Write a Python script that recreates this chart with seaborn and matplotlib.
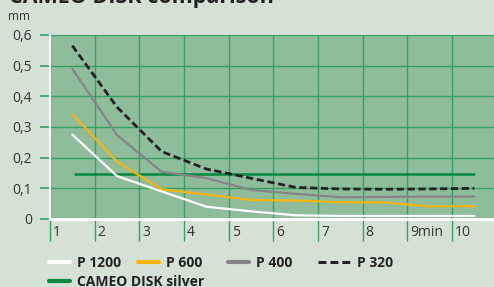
import matplotlib
matplotlib.use("Agg")
import matplotlib.pyplot as plt
import matplotlib.transforms as mtrans
from matplotlib.lines import Line2D
import seaborn as sns
import pandas as pd

# data
minutes = [1.5, 2.5, 3.5, 4.5, 5.5, 6.5, 7.5, 8.5, 9.5, 10.5]
p1200 = [0.275, 0.14, 0.09, 0.04, 0.025, 0.012, 0.01, 0.01, 0.01, 0.01]
p600 = [0.342, 0.187, 0.097, 0.08, 0.062, 0.06, 0.055, 0.054, 0.041, 0.042]
p400 = [0.49, 0.274, 0.154, 0.133, 0.095, 0.082, 0.071, 0.072, 0.073, 0.073]
p320 = [0.565, 0.365, 0.22, 0.163, 0.133, 0.103, 0.098, 0.097, 0.098, 0.1]
cameo_min = [1.55, 10.5]
cameo = [0.147, 0.147]

x_ticks = [1, 2, 3, 4, 5, 6, 7, 8, 9, 10]
x_labels = ["1", "2", "3", "4", "5", "6", "7", "8", "9min", "10"]
y_ticks = [0, 0.1, 0.2, 0.3, 0.4, 0.5, 0.6]
y_labels = ["0", "0,1", "0,2", "0,3", "0,4", "0,5", "0,6"]

series = ["P 1200", "P 600", "P 400", "P 320"]
values = [p1200, p600, p400, p320]

df = pd.DataFrame([
    {"Sorte": s, "min": m, "mm": v}
    for s, vals in zip(series, values)
    for m, v in zip(minutes, vals)
])
df_cameo = pd.DataFrame({"min": cameo_min, "mm": cameo})

sns.set_theme(style="white")
plt.rcParams["font.family"] = ["Open Sans", "DejaVu Sans"]

FIG_BG = "#d6e1d6"
AX_BG = "#8fbd9c"
GRID = "#35a062"
TXT = "#333333"

colors = {"P 1200": "white", "P 600": "#f6b50e", "P 400": "#858585", "P 320": "#222222"}
styles = {"P 1200": "-", "P 600": "-", "P 400": "-", "P 320": (0, (2.6, 1.3))}
widths = {"P 1200": 1.6, "P 600": 1.6, "P 400": 1.6, "P 320": 2.0}
CAMEO_C = "#0a8a45"

fig = plt.figure(figsize=(4.94, 2.87), dpi=100, facecolor=FIG_BG)
ax = fig.add_axes([50 / 494, 1 - 219 / 287, 444 / 494, 184 / 287])
ax.set_facecolor(AX_BG)

sns.lineplot(data=df_cameo, x="min", y="mm", color=CAMEO_C, lw=1.9, ax=ax)
for s in series:
    sns.lineplot(data=df[df["Sorte"] == s], x="min", y="mm", color=colors[s],
                 linestyle=styles[s], lw=widths[s], ax=ax)

ax.set_xlim(1, 10.94)
ax.set_ylim(0, 0.6)
ax.set_xlabel("")
ax.set_ylabel("")

ax.set_xticks(x_ticks)
ax.set_xticklabels(x_labels, ha="left", fontsize=10, color=TXT)
ax.set_yticks(y_ticks)
ax.set_yticklabels(y_labels, fontsize=10, color=TXT)
ax.tick_params(axis="x", bottom=True, length=16, width=1, color=GRID, pad=-12, direction="out")
ax.tick_params(axis="y", left=True, length=7, width=1.2, color=GRID, pad=6, direction="out")
shift = mtrans.ScaledTranslation(3 / 100, 0, fig.dpi_scale_trans)
for lab in ax.get_xticklabels():
    lab.set_transform(lab.get_transform() + shift)

ax.grid(True, color=GRID, lw=1.0)
ax.set_axisbelow(True)
for side in ["top", "right"]:
    ax.spines[side].set_visible(False)
ax.spines["left"].set_color("white")
ax.spines["left"].set_linewidth(1.5)
ax.spines["bottom"].set_color("white")
ax.spines["bottom"].set_linewidth(2.0)

fig.text(9 / 494, 1 - 3 / 287, "CAMEO DISK comparison", fontsize=15.5,
         fontweight="bold", color="#222222", va="baseline", ha="left")
fig.text(8 / 494, 1 - 17 / 287, "mm", fontsize=8.5, color=TXT, va="center", ha="left")

# legend, one entry at a time so the spacing follows the reference
entries = [
    ("P 1200", 49, 263, 1.5),
    ("P 600", 138, 263, 1.5),
    ("P 400", 228, 263, 1.5),
    ("P 320", 318, 263, 2.3),
    ("CAMEO DISK silver", 49, 282, 1.5),
]
for name, lx, ly, hl in entries:
    if name in colors:
        h = Line2D([], [], color=colors[name], linestyle=styles[name], lw=3 if name != "P 320" else 2.2)
    else:
        h = Line2D([], [], color=CAMEO_C, lw=3)
    fig.legend(handles=[h], labels=[name], loc="center left",
               bbox_to_anchor=(lx / 494, 1 - ly / 287), frameon=False,
               borderpad=0, borderaxespad=0, handlelength=hl, handletextpad=0.5,
               prop={"weight": "bold", "size": 10}, labelcolor="#222222")

fig.savefig("out.png", dpi=100, facecolor=FIG_BG)
